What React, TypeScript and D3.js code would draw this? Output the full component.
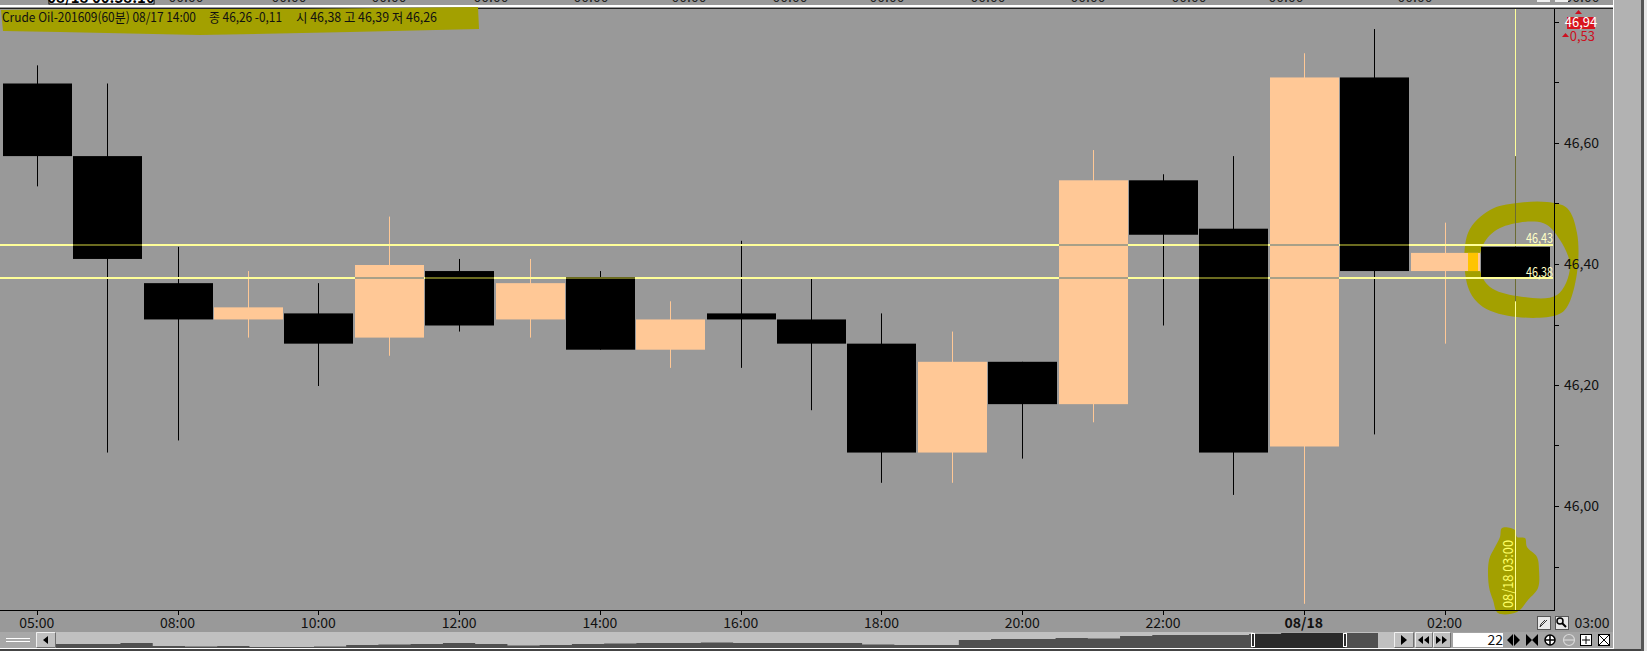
import React from "react";
import * as d3 from "d3";

const categories = ["05:00","06:00","08:00","09:00","10:00","11:00","12:00","13:00","14:00","15:00","16:00","17:00","18:00","19:00","20:00","21:00","22:00","23:00","08/18","01:00","02:00","03:00"];
const opens  = [46.70,46.58,46.37,46.31,46.32,46.28,46.39,46.31,46.38,46.26,46.32,46.31,46.27,46.09,46.24,46.17,46.54,46.46,46.10,46.71,46.39,46.43];
const closes = [46.58,46.41,46.31,46.33,46.27,46.40,46.30,46.37,46.26,46.31,46.31,46.27,46.09,46.24,46.17,46.54,46.45,46.09,46.71,46.39,46.42,46.38];
const highs  = [46.73,46.70,46.43,46.39,46.37,46.48,46.41,46.41,46.39,46.34,46.44,46.38,46.32,46.29,46.24,46.59,46.55,46.58,46.75,46.79,46.47,46.58];
const lows   = [46.53,46.09,46.11,46.28,46.20,46.25,46.29,46.28,46.26,46.23,46.23,46.16,46.04,46.04,46.08,46.14,46.30,46.02,45.84,46.12,46.27,46.34];
const labelled = ["05:00","08:00","10:00","12:00","14:00","16:00","18:00","20:00","22:00","08/18","02:00"];
const priceLabels = [46.6,46.4,46.2,46.0];
const priceTicks = [46.9,46.8,46.7,46.6,46.5,46.4,46.3,46.2,46.1,46.0,45.9];
const crossLevels = [46.43,46.38];
const titleParts = ["Crude Oil-201609(60분) 08/17 14:00", "종 46,26 -0,11", "시 46,38 고 46,39 저 46,26"];
const topLabels = ["186","289","389","491","591","689","790","887","988","1088","1189","1286","1415","1582"];
const overview = [4,4,5,2,1.5,2,1,1,1.5,3,3.5,4,5,4,2.5,3,4,4.5,5,5,5.5,5,5,5,5,3.5,3,3,8,9,9,10,9.5,12,13,13,13,14,15,15,15,14];

const W = 1647, H = 651;
const FONT = "'Liberation Sans Narrow','Noto Sans CJK KR',sans-serif";
const BG = "#999999", HL = "#a3a000", UP = "#ffc896", YEL = "#ffff99";

const x = d3.scalePoint<string>().domain(categories).range([36.8, 1515]);
const y = d3.scaleLinear().domain([46.4, 46.0]).range([265, 507]);
const fmt = (v: number) => v.toFixed(2).replace(".", ",");
const BODY = 69;
const crossY = [244, 277];

const ovX = d3.scaleLinear().domain([0, overview.length - 1]).range([56, 1378]);
const ovY = d3.scaleLinear().domain([0, 16]).range([648, 632]);
const ovArea = d3.area<number>().x((_, i) => ovX(i)).y0(648).y1(d => ovY(d)).curve(d3.curveStepAfter);

const blob = d3.line().curve(d3.curveCatmullRomClosed.alpha(0.5));
const ringOuter: [number, number][] = [[1468,233],[1490,210],[1517,203],[1547,202],[1567,208],[1577,233],[1577,273],[1567,307],[1557,315],[1517,317],[1483,307],[1468,287]];
const ringInner: [number, number][] = [[1543,223],[1500,228],[1483,245],[1480,270],[1490,287],[1517,296],[1557,295],[1570,267],[1560,240]];
const dateBlob: [number, number][] = [[1502,528],[1515,530],[1517,537],[1525,538],[1527,547],[1537,557],[1539,570],[1538,588],[1528,600],[1517,612],[1498,613],[1493,600],[1489,587],[1489,560],[1495,547],[1500,537]];
const titleBlob: [number, number][] = [[1,10],[100,9],[300,9],[478,7],[479,29],[350,32],[200,35],[60,32],[3,31]];

function Btn({ x: bx, w, children }: { x: number; w: number; children?: React.ReactNode }) {
  return (
    <g>
      <rect x={bx} y={632} width={w} height={16} fill="#c0c0c0" />
      <path d={`M${bx + 0.5} 647.5V632.5H${bx + w - 0.5}`} fill="none" stroke="#f0f0f0" />
      <path d={`M${bx + 0.5} 647.5H${bx + w - 0.5}V632.5`} fill="none" stroke="#707070" />
      {children}
    </g>
  );
}

export default function App() {
  return (
    <svg width={W} height={H} viewBox={`0 0 ${W} ${H}`} style={{ position: "absolute", left: 0, top: 0, display: "block" }} fontFamily={FONT}>
      <defs>
        <clipPath id="win"><rect x={1253} y={632} width={92} height={16} /></clipPath>
      </defs>
      <rect width={W} height={H} fill={BG} />
      {/* top strip, cut off by the crop */}
      <rect x={49} y={-8} width={105} height={12} fill="#ffffff" stroke="#000" />
      <text x={101} y={3} textAnchor="middle" fontSize={15} fontWeight="bold" fill="#000">08/18 00:38:10</text>
      {topLabels.map(tx => (
        <text key={tx} x={+tx} y={2} textAnchor="middle" fontSize={14} fill="#222">00:00</text>
      ))}
      <rect x={1537} y={-4} width={13} height={6} fill="#eeeeee" />
      <rect x={1555} y={-4} width={13} height={6} fill="#eeeeee" />
      <rect x={0} y={5} width={1613} height={2} fill="#ffffff" />
      <rect x={0} y={8} width={1613} height={1} fill="#222" />
      {/* right frame */}
      <rect x={1613} y={0} width={1} height={649} fill="#ffffff" />
      <rect x={1614} y={0} width={27} height={H} fill="#b2b2b2" />
      <rect x={1641} y={0} width={3} height={H} fill="#555555" />
      <rect x={1644} y={0} width={3} height={H} fill="#e8e8e8" />

      {/* highlighter */}
      <path d={d3.line().curve(d3.curveLinearClosed)(titleBlob) ?? ""} fill={HL} />
      <path fillRule="evenodd" fill={HL} d={(blob(ringOuter) ?? "") + (blob(ringInner) ?? "")} />
      <path d={blob(dateBlob) ?? ""} fill={HL} />

      {/* crosshair */}
      <rect x={1515} y={9} width={1} height={601} fill={YEL} />

      {/* candles */}
      {categories.map((c, i) => {
        const up = closes[i] >= opens[i];
        const cx = Math.round(x(c)!);
        const top = y(Math.max(opens[i], closes[i]));
        const bot = y(Math.min(opens[i], closes[i]));
        const col = up ? UP : "#000000";
        const wick = i === categories.length - 1 ? "#6b6b33" : col;
        return (
          <g key={c}>
            <rect x={cx} y={y(highs[i])} width={1} height={y(lows[i]) - y(highs[i])} fill={wick} />
            <rect x={cx - 34} y={top} width={BODY} height={Math.max(bot - top, 1)} fill={col} />
          </g>
        );
      })}
      <rect x={1468} y={y(46.42)} width={10} height={y(46.39) - y(46.42)} fill="#ffc400" />

      {/* horizontal crosshair lines change colour over the bodies */}
      {crossLevels.map((v, k) => (
        <g key={v}>
          <rect x={0} y={crossY[k]} width={1553} height={2} fill={YEL} />
          {categories.map((c, i) => {
            const hi = Math.max(opens[i], closes[i]);
            const lo = Math.min(opens[i], closes[i]);
            if (v > hi || v < lo || i === categories.length - 1) return null;
            const cx = Math.round(x(c)!);
            return <rect key={c} x={cx - 34} y={crossY[k]} width={BODY} height={2} fill={closes[i] >= opens[i] ? "#a8a088" : "#6b6b20"} />;
          })}
        </g>
      ))}
      <text x={1526} y={243} fontSize={14} fill="#ffffc8" textLength={27} lengthAdjust="spacingAndGlyphs">{fmt(crossLevels[0])}</text>
      <text x={1526} y={277} fontSize={14} fill="#ffffc8" textLength={27} lengthAdjust="spacingAndGlyphs">{fmt(crossLevels[1])}</text>
      <text transform="translate(1513,608) rotate(-90)" fontSize={14} fill="#ffff66" textLength={68} lengthAdjust="spacingAndGlyphs">08/18 03:00</text>

      <text x={2} y={22} fontSize={13} fill="#111" textLength={194} lengthAdjust="spacingAndGlyphs">{titleParts[0]}</text>
      <text x={209} y={22} fontSize={13} fill="#111" textLength={73} lengthAdjust="spacingAndGlyphs">{titleParts[1]}</text>
      <text x={296} y={22} fontSize={13} fill="#111" textLength={141} lengthAdjust="spacingAndGlyphs">{titleParts[2]}</text>

      {/* axes */}
      <rect x={1554} y={9} width={1} height={602} fill="#000" />
      <rect x={0} y={610} width={1555} height={1} fill="#000" />
      {priceTicks.map(v => (
        <rect key={v} x={1555} y={Math.round(y(v)) - 1} width={4} height={1} fill="#000" />
      ))}
      {priceLabels.map(v => (
        <text key={v} x={1564} y={Math.round(y(v)) + 4} fontSize={14} fill="#111">{fmt(v)}</text>
      ))}
      {labelled.map(l => (
        <g key={l}>
          <rect x={Math.round(x(l)!)} y={611} width={1} height={4} fill="#000" />
          <text x={x(l)!} y={628} textAnchor="middle" fontSize={14} fontWeight={l === "08/18" ? "bold" : "normal"} fill="#111">{l}</text>
        </g>
      ))}
      <text x={1592} y={628} textAnchor="middle" fontSize={14} fill="#111">03:00</text>
      <rect x={1537.5} y={616.5} width={13} height={13} fill="#e8e8e8" stroke="#555" />
      <path d="M1540 627L1547 620M1540 627L1541 624L1545 620" stroke="#333" fill="none" />
      <rect x={1555.5} y={616.5} width={13} height={13} fill="#e8e8e8" stroke="#555" />
      <circle cx={1560} cy={621} r={3} fill="none" stroke="#000" strokeWidth={1.5} />
      <path d="M1562 623L1566 627" stroke="#000" strokeWidth={2} />

      {/* last-price badge */}
      <path d="M1575 14L1578.5 10L1582 14Z" fill="#cc1020" />
      <rect x={1567} y={17} width={28} height={12} fill="#d8141e" />
      <text x={1581} y={27} textAnchor="middle" fontSize={13} fill="#ffffff">46,94</text>
      <path d="M1562 37L1565.5 33L1569 37Z" fill="#cc1020" />
      <text x={1595} y={41} textAnchor="end" fontSize={13} fill="#cc1020">0,53</text>

      {/* scrollbar strip */}
      <rect x={0} y={632} width={1394} height={16} fill="#c0c0c0" />
      <rect x={0} y={632} width={36} height={16} fill="#a8a8a8" />
      <rect x={6} y={638} width={24} height={1} fill="#ffffff" />
      <rect x={6} y={641} width={24} height={1} fill="#ffffff" />
      <Btn x={36} w={20}><path d="M48 636L43 640L48 644Z" fill="#000" /></Btn>
      <path d={ovArea(overview) ?? ""} fill="#505050" />
      <rect x={1253} y={632} width={92} height={16} fill="#505050" opacity={0.25} />
      <path d={ovArea(overview) ?? ""} fill="#2a2a2a" clipPath="url(#win)" />
      <rect x={1251.5} y={633.5} width={3} height={13} fill="#2c2c2c" stroke="#fff" />
      <rect x={1343.5} y={633.5} width={3} height={13} fill="#2c2c2c" stroke="#fff" />
      <rect x={1394} y={632} width={219} height={16} fill="#a4a4a4" />
      <Btn x={1394} w={20}><path d="M1401 635L1407 640L1401 645Z" fill="#000" /></Btn>
      <Btn x={1415} w={18}><path d="M1423 636L1418 640L1423 644ZM1429 636L1424 640L1429 644Z" fill="#000" /></Btn>
      <Btn x={1433} w={18}><path d="M1436 636L1441 640L1436 644ZM1442 636L1447 640L1442 644Z" fill="#000" /></Btn>
      <rect x={1453} y={633} width={50} height={14} fill="#ffffff" />
      <text x={1503} y={645} textAnchor="end" fontSize={14} fill="#111">22</text>
      <path d="M1513 634L1507 640L1513 646ZM1514 634L1520 640L1514 646Z" fill="#000" />
      <path d="M1526 634L1532 640L1526 646ZM1538 634L1532 640L1538 646Z" fill="#000" />
      <g fill="#fff" stroke="#000" strokeWidth={1.5}>
        <circle cx={1550} cy={640} r={5} /><path d="M1545 640H1555M1550 635V645" />
      </g>
      <g fill="none" stroke="#d8d8d8" strokeWidth={1.2}>
        <circle cx={1569} cy={640} r={5.5} /><path d="M1563 640H1575" />
      </g>
      <g fill="#fff" stroke="#000">
        <rect x={1580.5} y={634.5} width={11} height={11} /><path d="M1586 636V644M1582 640H1590" />
        <rect x={1598.5} y={634.5} width={11} height={11} /><path d="M1599 635L1609 645M1609 635L1599 645" />
      </g>
      <rect x={0} y={648} width={1613} height={1} fill="#ffffff" />
      <rect x={0} y={649} width={1641} height={2} fill="#444444" />
    </svg>
  );
}
